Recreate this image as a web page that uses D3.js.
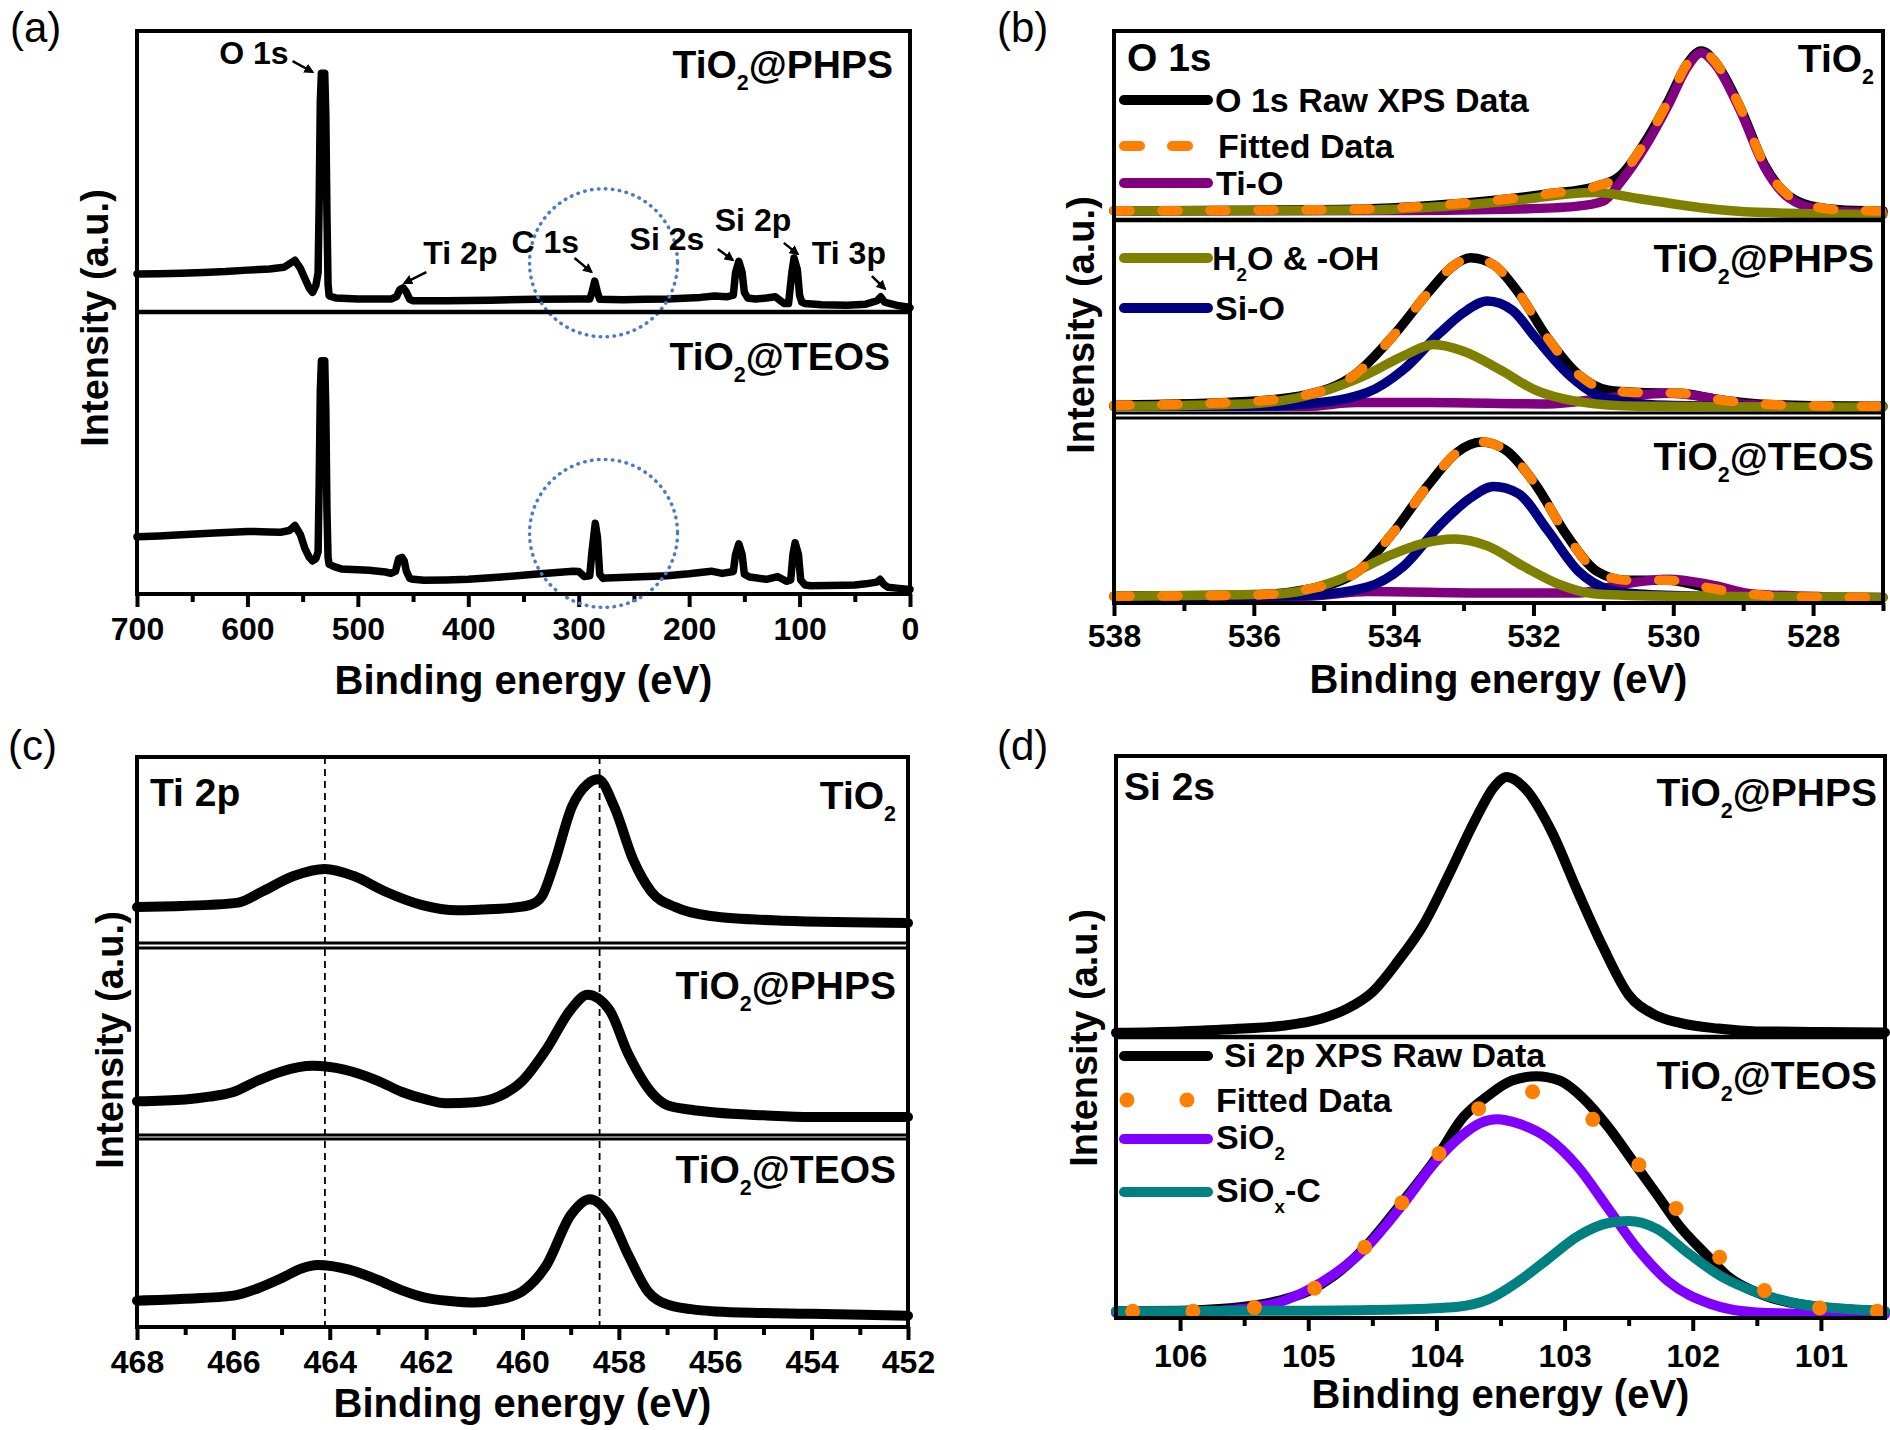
<!DOCTYPE html>
<html>
<head>
<meta charset="utf-8">
<script src="https://cdn.jsdelivr.net/npm/d3@7"></script>
<style>
  body { margin: 0; background: #fff; }
  svg text { font-family: "Liberation Sans", Arial, sans-serif; }
</style>
</head>
<body>
<svg id="fig" width="1890" height="1430"></svg>
<script>
// ---------- data (binding energy eV, intensity a.u. 0-100 per stacked sub-panel) ----------
const panelLetters = ["(a)", "(b)", "(c)", "(d)"];

// (a) survey spectra
const surveyPHPS = [[700,13.5],[680,13.6],[660,13.8],[640,14.1],[620,14.4],[600,14.9],[580,15.3],[567,15.9],[557,18.4],[552,15.5],[548,11.9],[544,8.5],[541,7],[538,9.5],[536,14],[535,40],[534,75],[533,85],[530,85],[529,70],[528,35],[527,10],[526,5.7],[520,5],[500,4.6],[470,4.6],[465,5.5],[462,8],[459,8.6],[456,7],[453,4.5],[450,4],[420,4],[380,4.2],[340,4.5],[300,4.6],[290,4.6],[288,7],[285.5,11],[283,7],[281,4.5],[260,4.4],[240,4.5],[220,4.6],[190,5.2],[177,5.7],[166,5.4],[160,6],[158,14],[155,18],[152,14],[150,7],[147,5],[140,4.6],[130,5],[122,5.4],[114,3],[110,3],[107,14],[105,19.2],[102,15],[100,6],[98,3.5],[95,3],[80,2.6],[57,2.4],[40,2.8],[30,4],[26.5,5.4],[23,3.5],[18,3],[10,2.2],[2,1.8],[0,1.5]];
const surveyTEOS = [[700,20.3],[680,20.6],[660,21],[630,21.6],[600,22.2],[580,22],[570,21.9],[562,22.5],[557,24.3],[552,21],[548,16.2],[544,13],[541,11.7],[538,12.5],[536,15],[535,40],[534,72],[533,82.7],[530,82.7],[529,65],[528,30],[527,13],[526,10.5],[520,9.5],[515,8.9],[500,8.6],[490,8.4],[475,7.8],[470,7.3],[466,8],[463,12.5],[460,13],[458,11.7],[456,8],[453,5.5],[450,5.2],[440,4.9],[420,5],[400,5.2],[370,6],[340,7],[320,7.6],[305,8.1],[300,8],[295,6.2],[290,6.5],[288,15],[285,25.1],[283,20],[281,7],[278,5.5],[275,5.7],[250,6],[220,6.5],[200,7.2],[180,8.1],[170,7.3],[160,8],[158,14],[155,17.8],[152,14],[150,7],[145,6],[130,5.2],[120,6.2],[112,4.5],[108,5],[106,14],[104,18.2],[101,14],[99,5],[95,3.2],[90,2.9],[60,3.1],[50,3.2],[40,3.6],[30,4.2],[27,5.2],[24,3.5],[20,2.4],[10,2],[0,1.6]];
// peak annotations: text position and arrow (energy, a.u.) in the upper sub-panel
const surveyNotes = [
  { text: "O 1s",  te: 625.5, tv: 88.3, a: [[559.1, 89.3], [541.0, 85.4]] },
  { text: "Ti 2p", te: 440.7, tv: 17.1, a: [[438.0, 14.2], [457.9, 10.3]] },
  { text: "C 1s",  te: 360.9, tv: 20.9, a: [[303.8, 19.2], [288.4, 14.2]] },
  { text: "Si 2s", te: 253.9, tv: 22.1, a: [[174.1, 22.4], [160.5, 18.5]] },
  { text: "Si 2p", te: 176.8, tv: 28.8, a: [[114.3, 24.6], [101.6, 20.6]] },
  { text: "Ti 3p", te: 88.9,  tv: 17.1, a: [[34.5, 12.8], [22.7, 8.2]] }
];
const c1sMarks = [[277.5, 17.5], [277.5, 21.5]];   // dotted circles, one per sub-panel

// (b) O 1s
const o1sRawTiO2 = [[538,4.8],[536,5.2],[534.4,5.8],[533.5,7.5],[532.66,10],[531.8,13.8],[531.1,17.9],[530.76,23.4],[530.4,41.5],[530.07,63],[529.8,82.6],[529.6,89.4],[529.38,82.6],[529.03,58.5],[528.7,29.5],[528.34,12.6],[527.9,6.5],[527.4,5],[527,4.8]];
const o1sTiOTiO2 = [[538,4.8],[534,5],[532.2,5.8],[531.4,7.2],[531.0,10],[530.76,19.8],[530.4,39],[530.07,61],[529.8,81],[529.6,88.5],[529.38,81.5],[529.03,57],[528.7,28.5],[528.34,11.5],[527.9,5.5],[527.4,4.2],[527,4]];
const o1sOHTiO2 = [[538,4.8],[536,5],[534.4,5.3],[533.1,7.7],[532.2,10.6],[531.5,13.8],[531.1,14.5],[530.5,11.4],[529.6,6.5],[528.8,4.1],[527,2.9]];

const o1sRawPHPS = [[538,4],[536.1,5.9],[535.24,9.5],[534.55,20],[534.03,39],[533.5,62.6],[533.17,75.6],[532.9,80.4],[532.57,76.8],[532.22,62.6],[531.8,39],[531.36,20],[530.93,11.8],[530.5,10.6],[529.9,10.2],[529.38,7.1],[528.78,4.7],[528,3.8],[527,3.5]];
const o1sSiOPHPS = [[538,3.5],[536.1,3.5],[535.24,4.7],[534.38,10.6],[533.86,22.5],[533.34,41.4],[533,52],[532.66,58],[532.3,53.2],[531.97,39],[531.5,20],[531.1,9.5],[530.67,5.9],[530.1,4],[529,3.5]];
const o1sOHPHPS = [[538,3.5],[536.1,4.7],[535.07,10.6],[534.38,20],[533.86,29.6],[533.43,35.5],[533,32],[532.48,22.5],[531.97,11.8],[531.36,5.9],[530.5,3.5],[527,3]];
const o1sTiOPHPS = [[538,3.5],[535.24,3.5],[534.55,5.4],[533.5,5.4],[531.8,4.7],[530.93,7.8],[530.07,10.2],[529.55,8.3],[529.03,4.7],[528.3,3.5]];

const o1sRawTEOS = [[538,3.7],[536.1,4.2],[535.24,7.4],[534.55,16],[534.03,37],[533.5,64],[533.09,81.5],[532.74,87],[532.4,82.7],[531.97,64],[531.53,37],[531.1,17.3],[530.67,12.3],[530.07,12.3],[529.55,8.6],[528.95,4.9],[528,3.2],[527,3]];
const o1sSiOTEOS = [[538,3.7],[536.1,3.7],[535.24,4.2],[534.38,8.6],[533.86,19.8],[533.34,42],[532.9,56.8],[532.57,63],[532.22,59.3],[531.8,39.5],[531.36,17.3],[530.93,7.4],[530.5,4.9],[529.6,3.7]];
const o1sOHTEOS = [[538,3.7],[535.67,4.9],[534.8,12.3],[534.12,24.7],[533.6,32],[533.13,34.6],[532.66,30.9],[532.14,19.8],[531.62,9.9],[531.1,4.9],[530.07,3.7],[527,3]];
const o1sTiOTEOS = [[538,3.7],[535.24,3.7],[534.38,6.2],[532.66,5.4],[531.36,5.4],[530.76,9.9],[530.07,12.8],[529.47,9.9],[528.86,4.9],[527.9,3.5]];

// (c) Ti 2p
const ti2pTiO2 = [[468,19.3],[467.2,19.8],[466.5,20.5],[465.9,21.7],[465.4,27.7],[464.75,36],[464.1,39.8],[463.5,36],[462.85,27.7],[462.1,20.5],[461.35,17.6],[460.85,18],[460.2,19],[459.84,20.5],[459.6,25],[459.35,42],[458.97,73.5],[458.65,85.5],[458.43,88],[458.1,73.5],[457.7,44.6],[457.33,27.7],[456.83,19.3],[456.1,14.5],[454.6,12],[452,10.8]];
const ti2pPHPS = [[468,18],[467,19],[466.5,20.5],[466,23],[465.5,29],[465,34],[464.35,37],[463.7,35],[463,29],[462.5,23],[462,19],[461.6,17],[461,17.5],[460.5,20.5],[460,29],[459.5,46],[459,67],[458.65,75],[458.2,67],[457.8,43],[457.3,22],[457,16],[456.5,13.5],[456,12],[455,10.5],[454,9.6],[452,9.6]];
const ti2pTEOS = [[468,14],[467,15],[466,16.7],[465.5,20.5],[465,26],[464.6,31],[464.25,33],[463.6,30.5],[463,25],[462.5,19.5],[462,15.5],[461.5,13.8],[461,13],[460.5,14.5],[460,19],[459.5,33],[459,59.5],[458.6,68],[458.2,59.5],[457.8,38],[457.4,19],[457,12],[456.5,9.5],[456,8.3],[455,7.5],[454,7],[452,6]];
const ti2pGuides = [464.1, 458.4];

// (d) Si 2s / Si 2p
const si2sPHPS = [[106.5,1.5],[106,2],[105.5,3],[105.2,4],[104.9,6.5],[104.7,10],[104.5,16],[104.3,27],[104.1,40],[103.9,58],[103.7,77],[103.55,89],[103.45,92.5],[103.3,88],[103.1,73],[102.9,52],[102.7,32],[102.5,15],[102.3,8],[102.1,5],[101.8,3],[101.5,2],[101,1.8],[100.5,1.6]];
const si2pRawTEOS = [[106.5,2.4],[106,2.6],[105.5,4],[105.2,6.5],[105,9.5],[104.8,15],[104.56,25],[104.27,41],[104,57],[103.79,71.5],[103.6,79],[103.41,84.5],[103.22,86],[103.04,84.5],[102.85,78],[102.66,68],[102.47,56],[102.28,44],[102.1,32.5],[101.9,22.8],[101.72,14.6],[101.44,8],[101.02,4],[100.5,2.4]];
const si2pFitTEOS = [[106.37,2.4],[105.9,2.4],[105.42,3.7],[104.95,10.6],[104.56,25.2],[104.27,41],[103.98,58.5],[103.67,74.5],[103.25,80.5],[102.78,70.7],[102.42,54.5],[102.13,39],[101.79,21.6],[101.44,9.8],[101.01,3.6],[100.56,2.4]];
const si2pSiO2 = [[106.5,1.8],[106,2],[105.5,3.3],[105.2,6],[105,10],[104.8,15.5],[104.56,24.5],[104.27,40],[104,56],[103.8,65],[103.65,69.5],[103.53,70.7],[103.35,69],[103.13,64],[102.9,54],[102.66,39],[102.42,24],[102.19,13],[101.86,5],[101.5,2],[101,1.4],[100.5,1.3]];
const si2pSiOxC = [[106.5,2.4],[105,2.6],[104.3,3],[103.83,4],[103.6,6.5],[103.36,13],[103.13,21],[102.9,29],[102.66,33.8],[102.5,34.5],[102.28,31.7],[102.05,23.6],[101.77,14.6],[101.49,9],[101.16,4.9],[100.78,3.2],[100.5,2.4]];

// ---------- colours ----------
const C = {
  raw: "#000000", fit: "#ff8000", tio: "#800080", oh: "#808000",
  sio: "#000080", sio2: "#8000ff", siox: "#008080", circle: "#4a7bc6"
};

const svg = d3.select("#fig");

// marker for the small annotation arrows in (a)
svg.append("defs").append("marker")
  .attr("id", "arrow")
  .attr("viewBox", "0 0 10 10")
  .attr("refX", 8).attr("refY", 5)
  .attr("markerWidth", 4).attr("markerHeight", 4)
  .attr("orient", "auto")
  .append("path").attr("d", "M0,0 L10,5 L0,10 z").attr("fill", "#000");

// text with optional subscripts: parts = [["TiO"],["2",true],["@PHPS"]]
function label(g, x, y, parts, size, anchor, weight) {
  const t = g.append("text")
    .attr("x", x).attr("y", y)
    .attr("font-size", size)
    .attr("font-weight", weight || "bold")
    .attr("text-anchor", anchor || "start");
  const drop = size * 0.32;
  parts.forEach(p => {
    if (p[1]) {
      t.append("tspan").attr("font-size", size * 0.55).attr("dy", drop).text(p[0]);
    } else {
      const s = t.append("tspan").text(p[0]);
      if (t.node().childNodes.length > 1) s.attr("dy", -drop);
    }
  });
  return t;
}

// frame, sub-panel dividers, x axis, titles for one panel
function makePanel(p) {
  const g = svg.append("g");
  const x = d3.scaleLinear().domain(p.domain).range([p.left, p.right]);
  const ys = p.subs.map(s => d3.scaleLinear().domain([0, 100]).range([s[1], s[0]]));
  const top = p.subs[0][0], bottom = p.subs[p.subs.length - 1][1];

  // minor + major ticks, outward
  g.append("g")
    .attr("transform", "translate(0," + bottom + ")")
    .call(d3.axisBottom(x).tickValues(p.minor).tickSize(8).tickSizeOuter(0).tickFormat(""))
    .call(a => a.select(".domain").remove())
    .selectAll("line").attr("stroke-width", 4);
  const ax = g.append("g")
    .attr("transform", "translate(0," + bottom + ")")
    .call(d3.axisBottom(x).tickValues(p.major).tickSize(13).tickSizeOuter(0)
      .tickPadding(p.tickPad).tickFormat(d3.format("d")));
  ax.select(".domain").remove();
  ax.selectAll("line").attr("stroke-width", 4);
  ax.selectAll("text")
    .attr("font-size", 32).attr("font-weight", "bold")
    .attr("font-family", "Liberation Sans, Arial, sans-serif").attr("fill", "#000");

  // axis titles
  g.append("text")
    .attr("x", (p.left + p.right) / 2).attr("y", p.titleY)
    .attr("text-anchor", "middle").attr("font-size", 40).attr("font-weight", "bold")
    .text("Binding energy (eV)");
  g.append("text")
    .attr("transform", "translate(" + p.ytitleX + "," + p.ytitleY + ") rotate(-90)")
    .attr("text-anchor", "middle").attr("dominant-baseline", "central")
    .attr("font-size", 38).attr("font-weight", "bold")
    .text("Intensity (a.u.)");

  // panel letter
  g.append("text")
    .attr("x", p.letterX).attr("y", p.letterY)
    .attr("font-size", 42).attr("font-weight", "normal")
    .text(p.letter);

  const plot = g.append("g");
  const deco = g.append("g");

  // frame and dividers drawn last
  deco.append("rect")
    .attr("x", p.left).attr("y", top)
    .attr("width", p.right - p.left).attr("height", bottom - top)
    .attr("fill", "none").attr("stroke", "#000").attr("stroke-width", 4);
  p.dividers.forEach(d => {
    deco.append("line")
      .attr("x1", p.left).attr("x2", p.right).attr("y1", d[0]).attr("y2", d[0])
      .attr("stroke", "#000").attr("stroke-width", d[1]);
  });

  return { g: plot, deco: deco, x: x, ys: ys };
}

function drawCurve(P, sub, data, color, width, curve, dash) {
  const line = d3.line()
    .x(d => P.x(d[0]))
    .y(d => P.ys[sub](d[1]))
    .curve(curve || d3.curveMonotoneX);
  const path = P.g.append("path")
    .datum(data)
    .attr("d", line)
    .attr("fill", "none")
    .attr("stroke", color)
    .attr("stroke-width", width)
    .attr("stroke-linejoin", "round")
    .attr("stroke-linecap", "round");
  if (dash) path.attr("stroke-dasharray", dash);
  return path;
}

function legendLine(g, x1, x2, y, color, width, dash) {
  const l = g.append("line")
    .attr("x1", x1).attr("x2", x2).attr("y1", y).attr("y2", y)
    .attr("stroke", color).attr("stroke-width", width).attr("stroke-linecap", "round");
  if (dash) l.attr("stroke-dasharray", dash);
}

// ---------- (a) survey ----------
const A = makePanel({
  letter: panelLetters[0], letterX: 10, letterY: 42, domain: [700, 0], left: 137, right: 910,
  subs: [[31, 312], [312, 594]], dividers: [[312, 4.5]],
  major: d3.range(0, 701, 100), minor: d3.range(50, 700, 100),
  tickPad: 10, titleY: 694, ytitleX: 95, ytitleY: 318
});
drawCurve(A, 0, surveyPHPS, C.raw, 7.5, d3.curveLinear);
drawCurve(A, 1, surveyTEOS, C.raw, 7.5, d3.curveLinear);
c1sMarks.forEach((m, i) => {
  A.g.append("circle")
    .attr("cx", A.x(m[0])).attr("cy", A.ys[i](m[1])).attr("r", 74)
    .attr("fill", "none").attr("stroke", C.circle).attr("stroke-width", 3.5)
    .attr("stroke-linecap", "round").attr("stroke-dasharray", "0.5 6.5");
});
surveyNotes.forEach(n => {
  label(A.deco, A.x(n.te), A.ys[0](n.tv), [[n.text]], 32);
  A.deco.append("line")
    .attr("x1", A.x(n.a[0][0])).attr("y1", A.ys[0](n.a[0][1]))
    .attr("x2", A.x(n.a[1][0])).attr("y2", A.ys[0](n.a[1][1]))
    .attr("stroke", "#000").attr("stroke-width", 2.5)
    .attr("marker-end", "url(#arrow)");
});
label(A.deco, 893, 78, [["TiO"], ["2", true], ["@PHPS"]], 39, "end");
label(A.deco, 890, 370, [["TiO"], ["2", true], ["@TEOS"]], 39, "end");

// ---------- (b) O 1s ----------
const B = makePanel({
  letter: panelLetters[1], letterX: 997, letterY: 42, domain: [538, 527], left: 1114, right: 1883,
  subs: [[31, 220], [220, 413], [418, 603]], dividers: [[220, 4.5], [413, 3], [418, 3]],
  major: d3.range(528, 539, 2), minor: d3.range(527, 538, 2),
  tickPad: 8, titleY: 693, ytitleX: 1081, ytitleY: 325
});
const bSets = [
  [o1sRawTiO2, o1sTiOTiO2, null, o1sOHTiO2],
  [o1sRawPHPS, o1sTiOPHPS, o1sSiOPHPS, o1sOHPHPS],
  [o1sRawTEOS, o1sTiOTEOS, o1sSiOTEOS, o1sOHTEOS]
];
bSets.forEach((s, i) => {
  drawCurve(B, i, s[0], C.raw, 9.5);
  drawCurve(B, i, s[1], C.tio, 9.5);
  if (s[2]) drawCurve(B, i, s[2], C.sio, 9.5);
  drawCurve(B, i, s[3], C.oh, 9.5);
  drawCurve(B, i, s[0], C.fit, 9.5, null, "16 32");   // fitted envelope
});
label(B.deco, 1127, 71, [["O 1s"]], 39);
label(B.deco, 1874, 72, [["TiO"], ["2", true]], 39, "end");
label(B.deco, 1874, 272, [["TiO"], ["2", true], ["@PHPS"]], 39, "end");
label(B.deco, 1874, 470, [["TiO"], ["2", true], ["@TEOS"]], 39, "end");
const bLegend = [
  { y: 100, color: C.raw, parts: [["O 1s Raw XPS Data"]], tx: 1215 },
  { y: 146, color: C.fit, parts: [["Fitted Data"]], tx: 1218, dash: "16 32" },
  { y: 183, color: C.tio, parts: [["Ti-O"]], tx: 1216 },
  { y: 258, color: C.oh, parts: [["H"], ["2", true], ["O & -OH"]], tx: 1212 },
  { y: 308, color: C.sio, parts: [["Si-O"]], tx: 1215 }
];
bLegend.forEach(l => {
  legendLine(B.deco, 1124, 1208, l.y, l.color, 10, l.dash);
  label(B.deco, l.tx, l.y + 12, l.parts, 34);
});

// ---------- (c) Ti 2p ----------
const Cp = makePanel({
  letter: panelLetters[2], letterX: 8, letterY: 760, domain: [468, 452], left: 137, right: 908,
  subs: [[757, 943], [948, 1135], [1139, 1327]],
  dividers: [[943, 3], [948, 3], [1135, 3], [1139, 3]],
  major: d3.range(452, 469, 2), minor: d3.range(453, 468, 2),
  tickPad: 10, titleY: 1417, ytitleX: 110, ytitleY: 1040
});
ti2pGuides.forEach(e => {
  Cp.g.append("line")
    .attr("x1", Cp.x(e)).attr("x2", Cp.x(e)).attr("y1", 757).attr("y2", 1327)
    .attr("stroke", "#000").attr("stroke-width", 1.8).attr("stroke-dasharray", "7 5");
});
[ti2pTiO2, ti2pPHPS, ti2pTEOS].forEach((s, i) => drawCurve(Cp, i, s, C.raw, 10));
label(Cp.deco, 150, 806, [["Ti 2p"]], 39);
label(Cp.deco, 896, 809, [["TiO"], ["2", true]], 39, "end");
label(Cp.deco, 896, 999, [["TiO"], ["2", true], ["@PHPS"]], 39, "end");
label(Cp.deco, 896, 1183, [["TiO"], ["2", true], ["@TEOS"]], 39, "end");

// ---------- (d) Si 2s / Si 2p ----------
const D = makePanel({
  letter: panelLetters[3], letterX: 997, letterY: 760, domain: [106.5, 100.5], left: 1116, right: 1885,
  subs: [[756, 1037], [1037, 1318]], dividers: [[1037, 4.5]],
  major: d3.range(101, 107, 1), minor: d3.range(101.5, 106.5, 1),
  tickPad: 13, titleY: 1408, ytitleX: 1084, ytitleY: 1038
});
drawCurve(D, 0, si2sPHPS, C.raw, 10);
drawCurve(D, 1, si2pRawTEOS, C.raw, 10);
drawCurve(D, 1, si2pSiO2, C.sio2, 10);
drawCurve(D, 1, si2pSiOxC, C.siox, 10);
D.g.selectAll(".fitdot")
  .data(si2pFitTEOS)
  .enter().append("circle")
  .attr("class", "fitdot")
  .attr("cx", d => D.x(d[0]))
  .attr("cy", d => D.ys[1](d[1]))
  .attr("r", 7.5)
  .attr("fill", C.fit);
label(D.deco, 1124, 800, [["Si 2s"]], 39);
label(D.deco, 1877, 806, [["TiO"], ["2", true], ["@PHPS"]], 39, "end");
label(D.deco, 1877, 1089, [["TiO"], ["2", true], ["@TEOS"]], 39, "end");
legendLine(D.deco, 1124, 1208, 1056, C.raw, 10);
label(D.deco, 1224, 1067, [["Si 2p XPS Raw Data"]], 34);
[1127, 1187].forEach(cx => {
  D.deco.append("circle").attr("cx", cx).attr("cy", 1100).attr("r", 7.5).attr("fill", C.fit);
});
label(D.deco, 1216, 1112, [["Fitted Data"]], 34);
legendLine(D.deco, 1124, 1208, 1139, C.sio2, 10);
label(D.deco, 1216, 1149, [["SiO"], ["2", true]], 34);
legendLine(D.deco, 1124, 1208, 1192, C.siox, 10);
label(D.deco, 1216, 1202, [["SiO"], ["x", true], ["-C"]], 34);
</script>
</body>
</html>
